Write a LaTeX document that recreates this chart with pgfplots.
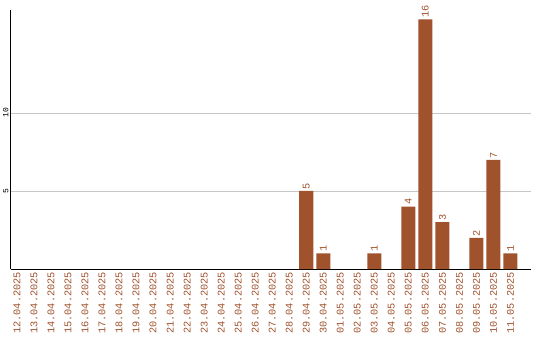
\documentclass[border=0pt]{standalone}
\usepackage{pgfplots}
\pgfplotsset{compat=1.18}
\usepackage{fontspec}
\setmainfont{Liberation Mono}
\definecolor{barc}{HTML}{A0522D}
\begin{document}
\begin{tikzpicture}
\begin{axis}[
 scale only axis, width=519.8bp, height=259bp,
 xmin=-0.37, xmax=30.18, ymin=0, ymax=16.6,
 axis x line=bottom, axis y line=left,
 axis line style={-, line width=1bp, black},
 ytick={5,10}, major tick length=0pt,
 ymajorgrids, grid style={line width=0.8bp, color=black!22},
 /pgf/number format/assume math mode=true,
 yticklabel style={rotate=90, anchor=south, font=\fontsize{8}{8}\selectfont, inner sep=2bp},
 xtick={0,...,29},
 xticklabels={12.04.2025,13.04.2025,14.04.2025,15.04.2025,16.04.2025,17.04.2025,18.04.2025,19.04.2025,20.04.2025,21.04.2025,22.04.2025,23.04.2025,24.04.2025,25.04.2025,26.04.2025,27.04.2025,28.04.2025,29.04.2025,30.04.2025,01.05.2025,02.05.2025,03.05.2025,04.05.2025,05.05.2025,06.05.2025,07.05.2025,08.05.2025,09.05.2025,10.05.2025,11.05.2025},
 xticklabel style={rotate=90, anchor=east, text=barc, font=\fontsize{10.3}{10}\selectfont, inner sep=3bp},
 ybar, bar width=14bp, bar shift=0pt,
 nodes near coords,
 nodes near coords style={rotate=90, anchor=west, text=barc, font=\fontsize{10.3}{10}\selectfont, inner sep=1.5bp},
]
\addplot[fill=barc, draw=none] coordinates {(17,5)(18,1)(21,1)(23,4)(24,16)(25,3)(27,2)(28,7)(29,1)};
\end{axis}
\pgfresetboundingbox
\path (-10.7bp,-71bp) rectangle (529.3bp,269bp);
\end{tikzpicture}
\end{document}
